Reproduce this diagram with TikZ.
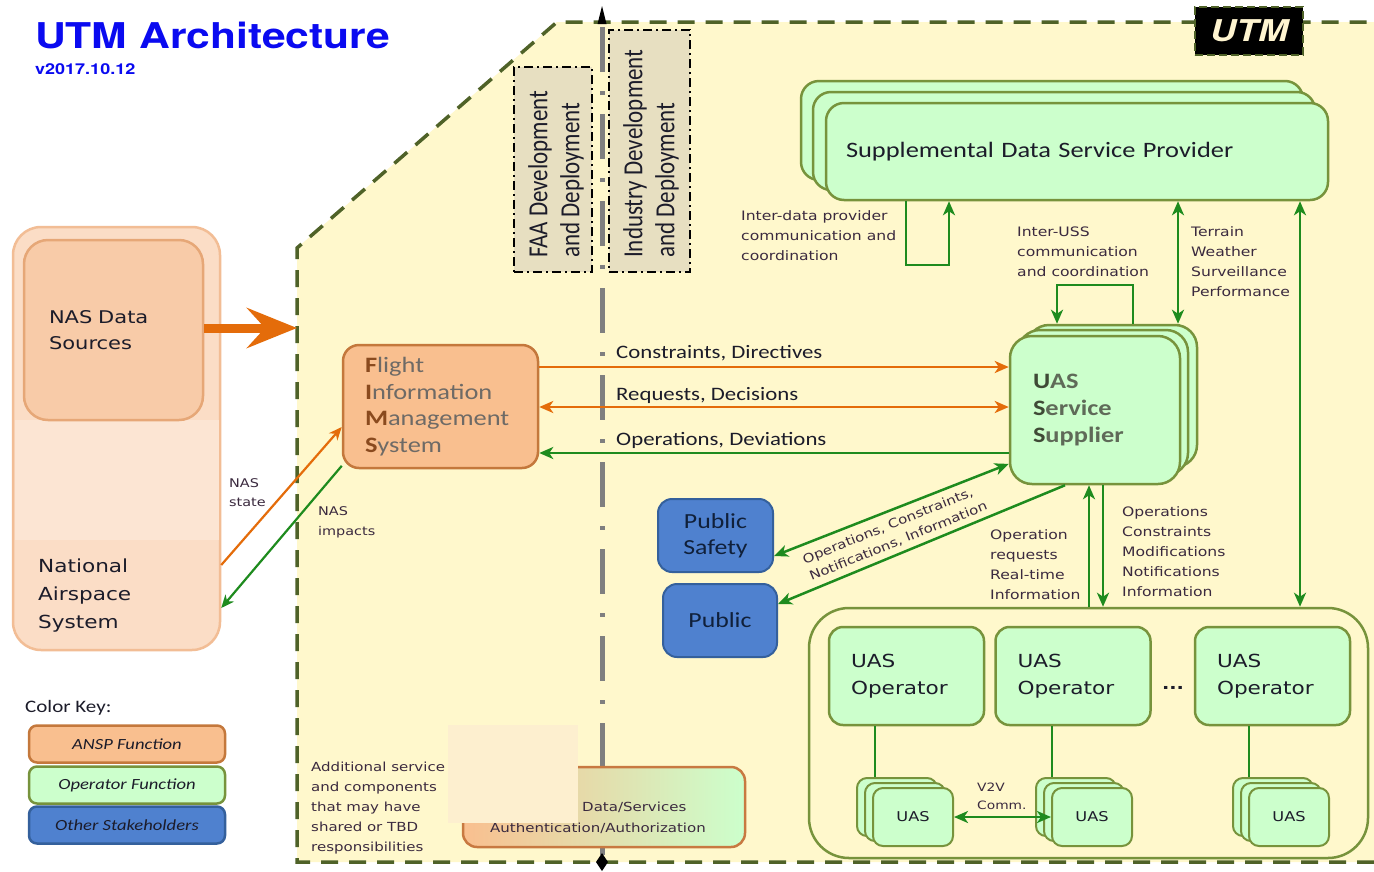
\documentclass[tikz,border=0pt]{standalone}
\usepackage{fontspec}
\setmainfont{Carlito}[FakeStretch=1.2]
\newfontfamily\vsans{DejaVu Sans}[FakeStretch=1.2]
\newfontfamily\heros{TeX Gyre Heros}[FakeStretch=1.2]
\newfontfamily\upright{Carlito}
\usetikzlibrary{arrows.meta}

\definecolor{utmbg}{HTML}{FFF8CC}
\definecolor{utmline}{HTML}{4F6228}
\definecolor{opfill}{HTML}{CCFFCC}
\definecolor{opline}{HTML}{77933C}
\definecolor{anspfill}{HTML}{F9BF8F}
\definecolor{anspline}{HTML}{C4783C}
\definecolor{nasout}{HTML}{FBDDC6}
\definecolor{nasoutline}{HTML}{F2BD95}
\definecolor{nasband}{HTML}{FCE5D3}
\definecolor{nasin}{HTML}{F8CBA8}
\definecolor{nasinline}{HTML}{E6A777}
\definecolor{stakefill}{HTML}{4F81CF}
\definecolor{stakeline}{HTML}{34609C}
\definecolor{arrorange}{HTML}{E46C0A}
\definecolor{arrgreen}{HTML}{1E8B1E}
\definecolor{lbl}{HTML}{3B2A3F}
\definecolor{ink}{HTML}{1C1C2A}
\definecolor{devfill}{HTML}{E7DFC1}
\definecolor{axisgray}{HTML}{7F7F7F}
\definecolor{titleblue}{HTML}{0A0AF0}
\definecolor{veil}{HTML}{FDEFCF}
\definecolor{fimsdark}{HTML}{8A4A1E}
\definecolor{fimsgray}{HTML}{6E6A66}
\definecolor{ussdark}{HTML}{3F4A36}
\definecolor{ussgray}{HTML}{5F6A58}
\definecolor{pubtext}{HTML}{10203A}
\definecolor{dsline}{HTML}{C87941}
\definecolor{tagtext}{HTML}{FFF5D0}

\newcommand\fimsinit[1]{\textcolor{fimsdark}{\bfseries #1}}
\newcommand\ussinit[1]{\textcolor{ussdark}{#1}}

\begin{document}
\begin{tikzpicture}[x=1pt,y=-1pt,
  opbox/.style={draw=opline, fill=opfill, line width=2.5pt, rounded corners=14pt},
  anspbox/.style={draw=anspline, fill=anspfill, line width=2.5pt, rounded corners=16pt},
  stakebox/.style={draw=stakeline, fill=stakefill, line width=2pt, rounded corners=14pt},
  uaslayer/.style={opbox, rounded corners=10pt, line width=2pt, minimum width=80pt, minimum height=58pt},
  uasbox/.style={uaslayer, font=\vsans\fontsize{13.5}{16}\selectfont, text=ink},
  opnode/.style={opbox, minimum width=155pt, minimum height=98pt, text width=111pt, inner xsep=22pt,
    align=left, font=\vsans\fontsize{18}{27}\selectfont, text=ink},
  keybox/.style={line width=2.5pt, rounded corners=8pt, minimum width=196pt, minimum height=37pt,
    font=\itshape\fontsize{15.5}{18}\selectfont, text=ink},
  devbox/.style={draw=black, fill=devfill, line width=1.8pt, dash pattern=on 9pt off 4pt on 2pt off 4pt},
  devtext/.style={rotate=90, anchor=west, inner sep=0pt, text=ink, font=\upright\fontsize{23}{26.7}\selectfont},
  lab/.style={text=lbl, font=\vsans\fontsize{13}{20}\selectfont, align=left, inner sep=0pt, anchor=west},
  flowlab/.style={text=ink, font=\fontsize{19}{22}\selectfont, inner sep=0pt, anchor=west},
  flow/.style={line width=2.5pt, -{Stealth[length=14pt,width=12pt,inset=4pt]}},
  both/.style={{Stealth[length=14pt,width=12pt,inset=4pt]}-{Stealth[length=14pt,width=12pt,inset=4pt]}},
  gflow/.style={flow, draw=arrgreen},
  oflow/.style={flow, draw=arrorange},
  link/.style={draw=arrgreen, line width=2.5pt}
]
\useasboundingbox (0,0) rectangle (1374,871);
\fill[white] (0,0) rectangle (1374,871);

% ---------- title ----------
\node[anchor=base west, inner sep=0pt, text=titleblue, font=\heros\bfseries\fontsize{35.5}{40}\selectfont]
  (title) at (35,48) {UTM Architecture};
\node[anchor=base west, inner sep=0pt, text=titleblue, font=\heros\bfseries\fontsize{15}{18}\selectfont]
  (version) at (35,74) {v2017.10.12};

% ---------- UTM domain ----------
\fill[utmbg] (297,862) -- (297,248) -- (557,22) -- (1374,22) -- (1374,862) -- cycle;
\draw[utmline, line width=3.5pt, dash pattern=on 17pt off 11pt]
  (1374,862) -- (297,862) -- (297,248) -- (557,22) -- (1374,22);
\node[fill=black, draw=utmline, line width=2.5pt, dash pattern=on 8pt off 4pt,
  minimum width=108pt, minimum height=48pt, text=tagtext,
  font=\heros\bfseries\itshape\fontsize{30}{34}\selectfont] (utmtag) at (1249,31) {UTM};

% ---------- development responsibility boxes ----------
\node[devbox, minimum width=78pt, minimum height=205pt] (faa) at (553,169.5) {};
\node[devbox, minimum width=81pt, minimum height=242pt] (industry) at (649.5,151) {};
\node[devtext] (faatext) at (557,258)
  {\scalebox{1}[1.2]{\begin{tabular}{@{}l@{}}FAA Development\\and Deployment\end{tabular}}};
\node[devtext] (industrytext) at (652,258)
  {\scalebox{1}[1.2]{\begin{tabular}{@{}l@{}}Industry Development\\and Deployment\end{tabular}}};

% ---------- National Airspace System ----------
\node[draw=nasoutline, fill=nasout, line width=2.5pt, rounded corners=28pt,
  minimum width=207pt, minimum height=423pt] (nas) at (116.5,438.5) {};
\fill[nasband] (14.5,420) rectangle (218.5,540);
\node[draw=nasinline, fill=nasin, line width=2.5pt, rounded corners=24pt,
  minimum width=179pt, minimum height=180pt, text width=129pt, inner xsep=25pt, align=left,
  font=\vsans\fontsize{17.5}{26}\selectfont, text=ink] (nasdata) at (113.5,330) {NAS Data\\Sources};
\node[anchor=west, inner sep=0pt, align=left, font=\vsans\fontsize{18}{28}\selectfont, text=ink]
  (nastext) at (38,596) {National\\Airspace\\System};
\coordinate (utmedge) at (297,328);
\draw[arrorange, line width=9pt, -{Stealth[length=50pt,width=40pt,inset=18pt]}]
  (nasdata.east |- utmedge) -- (utmedge);

% ---------- deployment axis ----------
\draw[axisgray, line width=5pt, dash pattern=on 45pt off 19pt on 4pt off 19pt, dash phase=80pt]
  (602,20) -- (602,858);
\fill[black] (602,6) -- (606.5,24) -- (597.5,24) -- cycle;

% ---------- SDSP ----------
\draw[opbox, rounded corners=18pt] (801,81) rectangle (1303,180);
\draw[opbox, rounded corners=18pt] (813,92) rectangle (1315,190);
\node[opbox, rounded corners=18pt, minimum width=502pt, minimum height=97pt, text width=462pt,
  inner xsep=20pt, align=left, font=\fontsize{22}{26}\selectfont, text=ink]
  (sdsp) at (1077,151.5) {Supplemental Data Service Provider};

% ---------- USS ----------
\node[opbox, rounded corners=22pt, minimum width=170pt, minimum height=142pt] (ussback) at (1112,396) {};
\node[opbox, rounded corners=22pt, minimum width=170pt, minimum height=145pt] (ussmid) at (1103,402.5) {};
\node[opbox, rounded corners=22pt, minimum width=170pt, minimum height=148pt, text width=124pt,
  inner xsep=23pt, align=left, text=ussgray, font=\bfseries\fontsize{22}{27}\selectfont]
  (uss) at (1095,410) {\ussinit{U}AS\\\ussinit{S}ervice\\\ussinit{S}upplier};

% ---------- FIMS ----------
\node[anspbox, minimum width=195pt, minimum height=123pt, text width=151pt, inner xsep=22pt,
  align=left, text=fimsgray, font=\fontsize{22}{26.5}\selectfont]
  (fims) at (440.5,406.5) {\fimsinit{F}light\\\fimsinit{I}nformation\\\fimsinit{M}anagement\\\fimsinit{S}ystem};

% ---------- other stakeholders ----------
\node[stakebox, minimum width=115pt, minimum height=73pt, align=center, text=pubtext,
  font=\fontsize{21.5}{26}\selectfont] (pubsafe) at (715.5,535.5) {Public\\Safety};
\node[stakebox, minimum width=114pt, minimum height=73pt, align=center, text=pubtext,
  font=\fontsize{21.5}{26}\selectfont] (public) at (720,620.5) {Public};

% ---------- operators ----------
\node[draw=opline, line width=2.5pt, rounded corners=40pt, fill=utmbg,
  minimum width=559pt, minimum height=250pt] (ops) at (1088.5,733) {};
\node[opnode] (op1) at (906.5,676) {UAS\\Operator};
\node[opnode] (op2) at (1073,676) {UAS\\Operator};
\node[opnode] (op3) at (1272.5,676) {UAS\\Operator};
\node[inner sep=0pt, font=\vsans\bfseries\fontsize{16}{18}\selectfont, text=ink] (more) at (1173,688) {...};

\node[uaslayer] (uas1c) at (897,807) {};
\node[uaslayer] (uas1b) at (905,812) {};
\node[uasbox] (uas1) at (913,817) {UAS};
\node[uaslayer] (uas2c) at (1076,807) {};
\node[uaslayer] (uas2b) at (1084,812) {};
\node[uasbox] (uas2) at (1092,817) {UAS};
\node[uaslayer] (uas3c) at (1273,807) {};
\node[uaslayer] (uas3b) at (1281,812) {};
\node[uasbox] (uas3) at (1289,817) {UAS};

\draw[link] (op1.south -| 875,0) -- (uas1c.north -| 875,0);
\draw[link] (op2.south -| 1052,0) -- (uas2c.north -| 1052,0);
\draw[link] (op3.south -| 1249,0) -- (uas3c.north -| 1249,0);
\draw[gflow, both] (uas1.east) -- (uas2.west);
\node[lab, font=\vsans\fontsize{11.5}{18}\selectfont] (v2v) at (977,796) {V2V\\Comm.};

% ---------- shared services ----------
\node[draw=dsline, line width=2.5pt, rounded corners=14pt, left color=anspfill, right color=opfill,
  minimum width=282pt, minimum height=80pt] (dsbox) at (604,807) {};
\node[lab, font=\vsans\fontsize{12.5}{20}\selectfont] (dstext1) at (582,807) {Data/Services};
\node[lab, anchor=center, font=\vsans\fontsize{12.5}{20}\selectfont] (dstext2) at (598,828) {Authentication/Authorization};
\node[lab, font=\vsans\fontsize{12.5}{19.8}\selectfont] (addtext) at (311,808)
  {Additional service\\and components\\that may have\\shared or TBD\\responsibilities};
\node[fill=veil, inner sep=0pt, minimum width=130pt, minimum height=98pt] (veilbox) at (513,774) {};
\fill[black] (602,853) -- (608,862) -- (602,871) -- (596,862) -- cycle;

% ---------- FIMS / USS exchanges ----------
\draw[oflow] (fims.east |- 0,367) -- (uss.west |- 0,367);
\draw[oflow, both] (fims.east |- 0,407) -- (uss.west |- 0,407);
\draw[gflow] (uss.west |- 0,453) -- (fims.east |- 0,453);
\node[flowlab] (lcd) at (616,353) {Constraints, Directives};
\node[flowlab] (lrd) at (616,395) {Requests, Decisions};
\node[flowlab] (lod) at (616,440) {Operations, Deviations};

% ---------- NAS exchanges ----------
\draw[arrorange, line width=2.2pt, -{Stealth[length=13pt,width=11pt,inset=4pt]}]
  (nas.east |- 0,565) -- (fims.west |- 0,427);
\draw[arrgreen, line width=2.2pt, -{Stealth[length=13pt,width=11pt,inset=4pt]}]
  (fims.211) -- (nas.east |- 0,608);
\node[lab, font=\vsans\fontsize{12}{19}\selectfont] (lnasstate) at (229,493) {NAS\\state};
\node[lab, font=\vsans\fontsize{12}{20}\selectfont] (lnasimp) at (318,522) {NAS\\impacts};

% ---------- USS / stakeholders ----------
\draw[gflow, both] (uss.212) -- (pubsafe.east |- 0,556);
\draw[gflow] (uss.south -| 1065,0) -- (public.east |- 0,604);
\node[lab, anchor=center, rotate=22, align=left, font=\vsans\fontsize{12.5}{18}\selectfont]
  (lpub) at (895,533) {Operations, Constraints,\\Notifications, Information};

% ---------- USS / operators ----------
\draw[gflow] (ops.north -| 1089,0) -- (uss.south -| 1089,0);
\draw[gflow] (uss.south -| 1103,0) -- (ops.north -| 1103,0);
\node[lab] (lopreq) at (990,565) {Operation\\requests\\Real-time\\Information};
\node[lab] (lopinfo) at (1122,551.5) {Operations\\Constraints\\Modifications\\Notifications\\Information};

% ---------- SDSP links ----------
\coordinate (idpa) at (906,265);
\coordinate (idpb) at (949,265);
\draw[gflow] (sdsp.south -| idpa) -- (idpa) -- (idpb) -- (sdsp.south -| idpb);
\node[lab] (lidp) at (741,236) {Inter-data provider\\communication and\\coordination};

\coordinate (issa) at (1133,285);
\coordinate (issb) at (1057,285);
\draw[gflow] (ussback.north -| issa) -- (issa) -- (issb) -- (ussback.north -| issb);
\node[lab] (liss) at (1017,252) {Inter-USS\\communication\\and coordination};

\draw[gflow, both] (ussback.north -| 1178,0) -- (sdsp.south -| 1178,0);
\node[lab] (lterrain) at (1191,262) {Terrain\\Weather\\Surveillance\\Performance};
\draw[gflow, both] (sdsp.south -| 1300,0) -- (ops.north -| 1300,0);

% ---------- colour key ----------
\node[anchor=west, inner sep=0pt, text=ink, font=\fontsize{17.5}{20}\selectfont] (keytitle) at (25,708) {Color Key:};
\node[keybox, draw=anspline, fill=anspfill] (keyansp) at (127,744) {ANSP Function};
\node[keybox, draw=opline, fill=opfill] (keyop) at (127,785) {Operator Function};
\node[keybox, draw=stakeline, fill=stakefill] (keyother) at (127,825) {Other Stakeholders};
\end{tikzpicture}
\end{document}
